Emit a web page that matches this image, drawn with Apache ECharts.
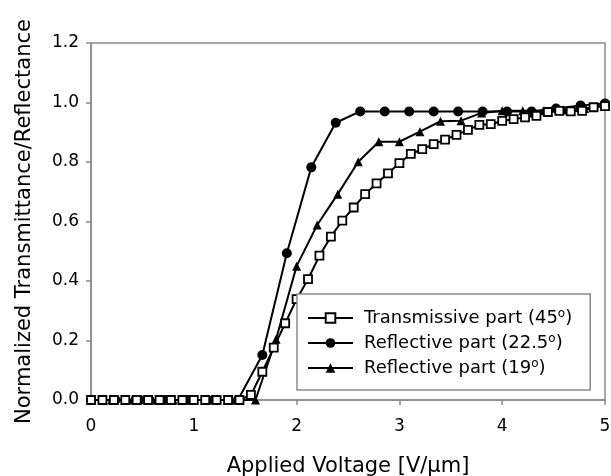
<!DOCTYPE html>
<html>
<head>
<meta charset="utf-8">
<script src="https://cdn.jsdelivr.net/npm/echarts@6/dist/echarts.min.js"></script>
<style>
  html, body { margin: 0; padding: 0; background: #fff; }
  #chart { width: 611px; height: 476px; }
</style>
</head>
<body>
<div id="chart"></div>
<script>
// x steps differ per curve: 1/9, 5/21 and 0.2 V/um
const transStep = 1 / 9;
const refl225Step = 5 / 21;
const refl19Step = 0.2;

const transValues = [
  0, 0, 0, 0, 0, 0, 0, 0, 0, 0, 0, 0, 0, 0,
  0.017, 0.095, 0.176, 0.258, 0.339, 0.406, 0.485, 0.549, 0.603, 0.647,
  0.692, 0.728, 0.762, 0.796, 0.827, 0.843, 0.86, 0.875, 0.891, 0.908,
  0.925, 0.927, 0.938, 0.944, 0.95, 0.955, 0.968, 0.972, 0.97, 0.972,
  0.984, 0.988
];
const refl225Values = [
  0, 0, 0, 0, 0, 0, 0, 0.151, 0.493, 0.782, 0.932,
  0.97, 0.97, 0.97, 0.97, 0.97, 0.97, 0.97, 0.97, 0.98, 0.99, 0.997
];
const refl19Values = [
  0, 0, 0, 0, 0, 0, 0, 0, 0, 0.204, 0.45, 0.588, 0.692,
  0.801, 0.868, 0.868, 0.902, 0.937, 0.939, 0.965, 0.972, 0.972,
  0.972, 0.975, 0.98, 0.99
];

const seriesNames = [
  "Transmissive part (45",
  "Reflective part (22.5",
  "Reflective part (19",
];
const xTicks = [0, 1, 2, 3, 4, 5];
const yTicks = [0, 0.2, 0.4, 0.6, 0.8, 1.0, 1.2];

function toPoints(step, values) {
  return values.map((v, i) => [i * step, v]);
}

const chartDom = echarts.init(document.getElementById("chart"));
const font = "'DejaVu Sans', sans-serif";
const gray = "#8a8a8a";

chartDom.setOption({
  animation: false,
  textStyle: { fontFamily: font },
  grid: {
    left: 91,
    right: 6,
    top: 43,
    bottom: 76,
    containLabel: false,
    outerBoundsMode: "none",
    show: true,
    borderColor: gray,
    borderWidth: 1.5,
  },
  legend: {
    orient: "vertical",
    left: 297,
    top: 294,
    padding: [14, 18, 13, 10],
    itemWidth: 45,
    itemHeight: 12,
    itemGap: 6,
    borderColor: gray,
    borderWidth: 1.5,
    backgroundColor: "#fff",
    data: seriesNames,
    formatter: (name) => "{a|" + name + "}{s|o}{a|)}",
    textStyle: {
      color: "#000",
      fontFamily: font,
      fontSize: 18,
      padding: [0, 0, 0, 6],
      rich: {
        a: { fontSize: 18, lineHeight: 20, fontFamily: font, color: "#000" },
        s: {
          fontSize: 12,
          lineHeight: 20,
          fontFamily: font,
          color: "#000",
          verticalAlign: "top",
          padding: [0, 0, 6, 0],
        },
      },
    },
  },
  xAxis: {
    type: "value",
    min: xTicks[0],
    max: xTicks[xTicks.length - 1],
    interval: 1,
    name: "Applied Voltage [V/\u03bcm]",
    nameLocation: "middle",
    nameGap: 56,
    nameTextStyle: { fontSize: 21, color: "#000", fontFamily: font },
    axisLine: { lineStyle: { color: gray, width: 1.5 } },
    axisTick: { show: true, length: 5, lineStyle: { color: gray, width: 1.5 } },
    axisLabel: { color: "#000", fontSize: 17, margin: 18, fontFamily: font },
    splitLine: { show: false },
  },
  yAxis: {
    type: "value",
    min: yTicks[0],
    max: yTicks[yTicks.length - 1],
    interval: 0.2,
    name: "Normalized Transmittance/Reflectance",
    nameLocation: "middle",
    nameGap: 56,
    nameTextStyle: { fontSize: 21, color: "#000", fontFamily: font },
    axisLine: { show: true, lineStyle: { color: gray, width: 1.5 } },
    axisTick: { show: true, length: 5, lineStyle: { color: gray, width: 1.5 } },
    axisLabel: {
      color: "#000",
      fontSize: 17,
      margin: 12,
      fontFamily: font,
      formatter: (v) => v.toFixed(1),
    },
    splitLine: { show: false },
  },
  series: [
    {
      name: seriesNames[0],
      type: "line",
      data: toPoints(transStep, transValues),
      symbol: "rect",
      symbolSize: 8,
      lineStyle: { color: "#000", width: 2 },
      itemStyle: { color: "#fff", borderColor: "#000", borderWidth: 1.8 },
      z: 3,
    },
    {
      name: seriesNames[1],
      type: "line",
      data: toPoints(refl225Step, refl225Values),
      symbol: "circle",
      symbolSize: 10,
      lineStyle: { color: "#000", width: 2 },
      itemStyle: { color: "#000" },
      z: 2,
    },
    {
      name: seriesNames[2],
      type: "line",
      data: toPoints(refl19Step, refl19Values),
      symbol: "triangle",
      symbolSize: 9,
      lineStyle: { color: "#000", width: 2 },
      itemStyle: { color: "#000" },
      z: 2,
    },
  ],
});
</script>
</body>
</html>
